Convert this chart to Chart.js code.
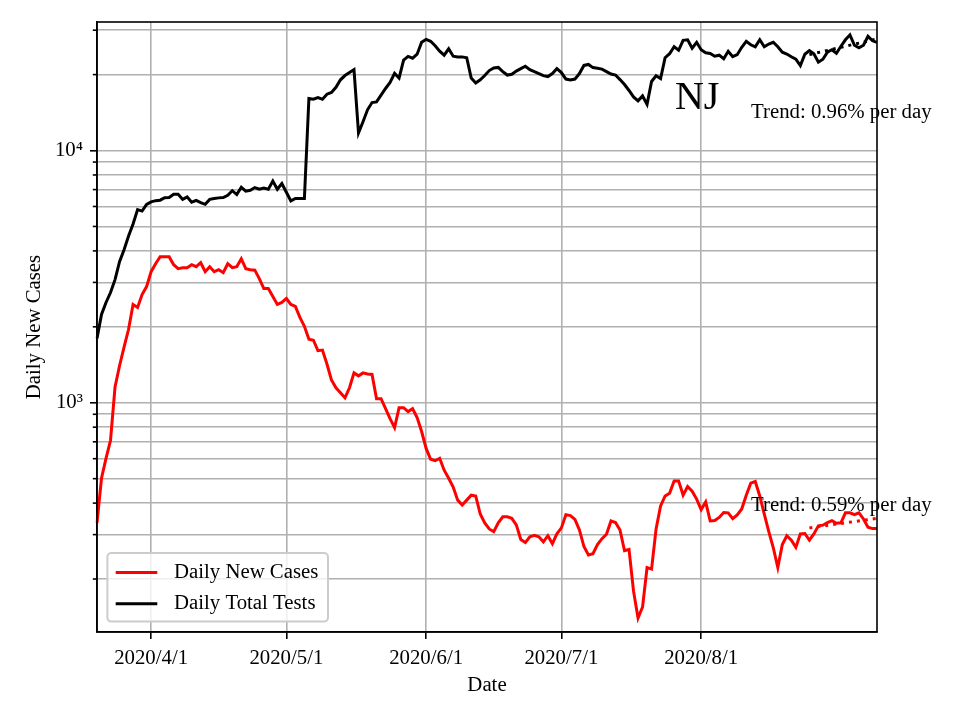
<!DOCTYPE html>
<html>
<head>
<meta charset="utf-8">
<script src="https://cdn.jsdelivr.net/npm/chart.js@4.4.0/dist/chart.umd.min.js"></script>
<style>
  html, body { margin: 0; padding: 0; background: #fff; }
  #wrap { width: 960px; height: 720px; }
</style>
</head>
<body>
<div id="wrap"><canvas id="njChart" width="960" height="720"></canvas></div>
<script>
// NJ daily numbers, one value per day starting 2020/3/20
const dailyCases = [
  334, 502, 602, 710, 1156, 1402, 1662, 1956, 2453, 2388,
  2686, 2888, 3309, 3558, 3791, 3791, 3791, 3526, 3401, 3431,
  3431, 3526, 3463, 3590, 3309, 3463, 3309, 3370, 3279, 3558,
  3431, 3463, 3724, 3401, 3370, 3355, 3105, 2837, 2837, 2638,
  2453, 2498, 2590, 2453, 2409, 2181, 2010, 1786, 1770, 1609,
  1617, 1424, 1232, 1146, 1095, 1046, 1146, 1313, 1278, 1313,
  1301, 1295, 1037, 1037, 947, 865, 797, 956, 956, 922,
  947, 873, 769, 659, 597, 589, 602, 540, 502, 463,
  411, 393, 411, 430, 427, 362, 334, 316, 308, 334,
  353, 353, 348, 328, 287, 279, 294, 298, 294, 281,
  297, 276, 302, 319, 360, 357, 345, 313, 269, 249,
  252, 274, 289, 301, 340, 335, 313, 259, 262, 179,
  140, 155, 222, 219, 316, 390, 427, 438, 489, 489,
  430, 465, 446, 415, 377, 404, 340, 341, 351, 367,
  366, 347, 359, 379, 430, 480, 487, 427, 362, 308,
  266, 222, 274, 297, 285, 267, 302, 303, 285, 302,
  325, 327, 335, 341, 333, 334, 366, 366, 360, 366,
  346, 321, 317, 317
];

const dailyTests = [
  1798, 2240, 2498, 2735, 3077, 3624, 4040, 4586, 5113, 5832,
  5753, 6112, 6259, 6327, 6355, 6502, 6512, 6711, 6711, 6402,
  6543, 6242, 6345, 6214, 6118, 6402, 6448, 6490, 6512, 6650,
  6928, 6692, 7150, 6897, 6960, 7130, 7022, 7105, 7022, 7570,
  7022, 7394, 6834, 6315, 6452, 6452, 6452, 16090, 15970, 16210,
  15970, 16720, 16990, 17810, 19070, 19830, 20390, 20920, 11740, 13010,
  14500, 15500, 15590, 16570, 17620, 18610, 20230, 19390, 22820, 23620,
  23240, 24090, 26860, 27600, 27110, 26030, 24760, 23880, 25320, 23660,
  23510, 23510, 23340, 19390, 18520, 19080, 19830, 20750, 21260, 21360,
  20560, 19920, 20060, 20650, 21120, 21590, 20920, 20560, 20190, 19810,
  19650, 20190, 21120, 20370, 19200, 19030, 19200, 20190, 21750, 21950,
  21320, 21180, 21030, 20560, 20100, 19920, 19110, 18270, 17300, 16320,
  15740, 16460, 15240, 18780, 19780, 19290, 23340, 24200, 25790, 24980,
  27350, 27480, 25440, 26860, 25090, 24420, 24270, 23660, 23880, 23130,
  24760, 23550, 23990, 25670, 27110, 26260, 25790, 27480, 25790, 26430,
  26860, 25790, 24530, 24130, 23550, 23020, 21710, 24090, 24910, 24200,
  22400, 23020, 24530, 25090, 24310, 25910, 27480, 28750, 26140, 25560,
  26140, 28360, 27230, 26860
];

// fitted trends over the last two weeks
const trendDates = ['2020/8/25', '2020/9/9'];
const trendCases = [319, 348];
const trendTests = [24000, 27700];
const trendLabels = ['Trend: 0.59% per day', 'Trend: 0.96% per day'];

const xTickLabels = ['2020/4/1', '2020/5/1', '2020/6/1', '2020/7/1', '2020/8/1'];
const yTicks = [200, 300, 400, 500, 600, 700, 800, 900,
                1000, 2000, 3000, 4000, 5000, 6000, 7000, 8000, 9000,
                10000, 20000, 30000];
const yTickLabels = { 1000: '10\u00B3', 10000: '10\u2074' };

const dates = [];
for (let i = 0; i < dailyCases.length; i++) {
  const d = new Date(2020, 2, 20 + i);
  dates.push(d.getFullYear() + '/' + (d.getMonth() + 1) + '/' + d.getDate());
}

const SERIF = '"Liberation Serif", "Times New Roman", serif';
const FS = 20.8;
Chart.defaults.font.family = SERIF;
Chart.defaults.font.size = FS;
Chart.defaults.color = '#000';

// frame, minor y ticks, text notes and the boxed legend
const decorations = {
  id: 'decorations',
  afterDraw(chart) {
    const { ctx, chartArea: a, scales } = chart;
    const w = a.right - a.left, h = a.bottom - a.top;
    ctx.save();

    ctx.strokeStyle = '#000';
    ctx.lineWidth = 1.6;
    yTicks.forEach(v => {
      if (yTickLabels[v]) return;
      const y = scales.y.getPixelForValue(v);
      ctx.beginPath();
      ctx.moveTo(a.left, y);
      ctx.lineTo(a.left - 4.2, y);
      ctx.stroke();
    });
    ctx.strokeRect(a.left, a.top, w, h);

    ctx.fillStyle = '#000';
    ctx.textBaseline = 'alphabetic';
    ctx.textAlign = 'left';
    ctx.font = '40px ' + SERIF;
    ctx.fillText('NJ', a.left + 0.741 * w, a.top + 0.142 * h);
    ctx.font = FS + 'px ' + SERIF;
    ctx.fillText(trendLabels[1], a.left + 0.8385 * w, a.top + 0.158 * h);
    ctx.fillText(trendLabels[0], a.left + 0.8385 * w, a.top + 0.802 * h);

    // legend box, lower left inside the axes
    const items = chart.data.datasets.filter(ds => ds.inLegend);
    const bx = a.left + 10.4, bw = 220.6, bh = 68.6;
    const by = a.bottom - 10.4 - bh;
    ctx.beginPath();
    if (ctx.roundRect) ctx.roundRect(bx, by, bw, bh, 4);
    else ctx.rect(bx, by, bw, bh);
    ctx.fillStyle = 'rgba(255,255,255,0.8)';
    ctx.fill();
    ctx.strokeStyle = '#cccccc';
    ctx.lineWidth = 2;
    ctx.stroke();
    ctx.textBaseline = 'middle';
    items.forEach((ds, k) => {
      const y = by + 19.5 + k * 31.2;
      ctx.strokeStyle = ds.borderColor;
      ctx.lineWidth = 3;
      ctx.beginPath();
      ctx.moveTo(bx + 8.3, y);
      ctx.lineTo(bx + 49.9, y);
      ctx.stroke();
      ctx.fillStyle = '#000';
      ctx.fillText(ds.label, bx + 66.6, y);
    });
    ctx.restore();
  }
};

new Chart(document.getElementById('njChart'), {
  type: 'line',
  data: {
    labels: dates,
    datasets: [
      {
        label: 'Daily New Cases',
        data: dailyCases,
        borderColor: '#ff0000',
        borderWidth: 3,
        inLegend: true
      },
      {
        label: 'Daily Total Tests',
        data: dailyTests,
        borderColor: '#000000',
        borderWidth: 3,
        inLegend: true
      },
      {
        label: 'cases trend',
        data: trendDates.map((d, i) => ({ x: d, y: trendCases[i] })),
        borderColor: '#ff0000',
        borderWidth: 3,
        borderDash: [3, 5]
      },
      {
        label: 'tests trend',
        data: trendDates.map((d, i) => ({ x: d, y: trendTests[i] })),
        borderColor: '#000000',
        borderWidth: 3,
        borderDash: [3, 5]
      }
    ]
  },
  options: {
    responsive: false,
    animation: false,
    devicePixelRatio: 1,
    elements: {
      point: { radius: 0 },
      line: { tension: 0, fill: false }
    },
    layout: { padding: { top: 22, right: 83, left: 0, bottom: 0 } },
    plugins: {
      legend: { display: false },
      tooltip: { enabled: false }
    },
    scales: {
      x: {
        type: 'category',
        offset: false,
        afterBuildTicks: s => {
          s.ticks = s.ticks.filter(t => xTickLabels.includes(dates[t.value]));
        },
        afterFit: s => { s.height = 88; },
        ticks: { autoSkip: false, maxRotation: 0, padding: 7, color: '#000' },
        grid: { color: '#b0b0b0', lineWidth: 1.6, tickLength: 7, tickColor: '#000', tickWidth: 1.6 },
        border: { display: true, color: '#000', width: 1.6 },
        title: { display: true, text: 'Date', padding: { top: 0, bottom: 21.5 }, color: '#000' }
      },
      y: {
        type: 'logarithmic',
        min: 123.3,
        max: 32330,
        afterBuildTicks: s => { s.ticks = yTicks.map(v => ({ value: v })); },
        afterFit: s => { s.width = 97; },
        ticks: {
          autoSkip: false,
          padding: 7,
          color: '#000',
          callback: v => yTickLabels[v] || ''
        },
        grid: {
          color: '#b0b0b0',
          lineWidth: 1.6,
          tickLength: 7,
          tickWidth: 1.6,
          tickColor: c => (c.tick && yTickLabels[c.tick.value]) ? '#000' : 'rgba(0,0,0,0)'
        },
        border: { display: true, color: '#000', width: 1.6 },
        title: { display: true, text: 'Daily New Cases', padding: { top: 22.5, bottom: 0 }, color: '#000' }
      }
    }
  },
  plugins: [decorations]
});
</script>
</body>
</html>
